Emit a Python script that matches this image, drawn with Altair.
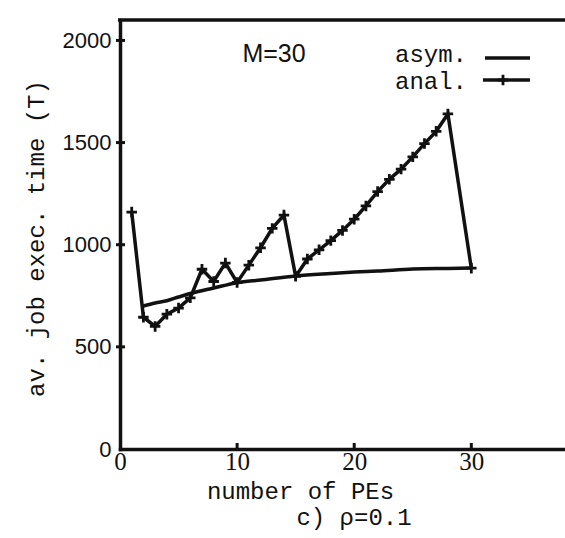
import altair as alt
import pandas as pd

# Average job execution time (T) versus number of PEs, M=30 jobs, rho=0.1
anal_pes = [1, 2, 3, 4, 5, 6, 7, 8, 9, 10, 11, 12, 13, 14, 15,
            16, 17, 18, 19, 20, 21, 22, 23, 24, 25, 26, 27, 28, 30]
anal_time = [1160, 645, 600, 660, 690, 740, 880, 820, 910, 815, 900, 985, 1080, 1145, 845,
             930, 975, 1020, 1070, 1125, 1190, 1260, 1320, 1370, 1430, 1495, 1555, 1640, 885]

asym_pes = [2, 3, 4, 5, 6, 8, 10, 12, 15, 18, 20, 22, 25, 28, 30]
asym_time = [700, 715, 726, 744, 761, 788, 814, 827, 847, 859, 866, 871, 881, 884, 886]

x_tick_values = [0, 10, 20, 30]
y_tick_values = [0, 500, 1000, 1500, 2000]

W, H = 445, 429
INK = "#111111"
MONO = "Liberation Mono"
SANS = "Liberation Sans"
SERIF = "Liberation Serif"
PLUS = "M-1,0L1,0M0,-1L0,1"

anal_df = pd.DataFrame({"pes": anal_pes, "time": anal_time})
asym_df = pd.DataFrame({"pes": asym_pes, "time": asym_time})
xt_df = pd.DataFrame({"pes": x_tick_values[1:]})
yt_df = pd.DataFrame({"time": y_tick_values[1:]})
one = alt.Data(values=[{}])

x_enc = alt.X(
    "pes:Q",
    scale=alt.Scale(domain=[0, 38], nice=False),
    axis=alt.Axis(
        values=x_tick_values, format="d", title="number of PEs", ticks=False, grid=False,
        domainWidth=3.5, domainColor=INK, labelFont=SERIF, labelFontSize=25,
        labelColor=INK, labelPadding=0, labelFlush=False,
        titleFont=MONO, titleFontSize=24, titleFontWeight="normal", titleColor=INK,
        titleX=180, titleY=30,
    ),
)
y_enc = alt.Y(
    "time:Q",
    scale=alt.Scale(domain=[0, 2100], nice=False),
    axis=alt.Axis(
        values=y_tick_values, format="d", title="av. job exec. time (T)", ticks=False, grid=False,
        domainWidth=3.5, domainColor=INK, labelFont=SANS, labelFontSize=22,
        labelColor=INK, labelPadding=9, labelFlush=False,
        titleFont=MONO, titleFontSize=24, titleFontWeight="normal", titleColor=INK,
        titleX=-84, titleY=218, titleAngle=270, titleBaseline="middle", titleAlign="center",
    ),
)

asym_line = alt.Chart(asym_df).mark_line(
    color=INK, strokeWidth=3.5, interpolate="monotone"
).encode(x=x_enc, y=y_enc)

anal_line = alt.Chart(anal_df).mark_line(color=INK, strokeWidth=3.5).encode(x=x_enc, y=y_enc)

anal_pts = alt.Chart(anal_df).mark_point(
    shape=PLUS, filled=False, stroke=INK, strokeWidth=2.8, size=110, opacity=1
).encode(x=x_enc, y=y_enc)

x_ticks = alt.Chart(xt_df).mark_rule(color=INK, strokeWidth=3).encode(
    x=x_enc, y=alt.value(H), y2=alt.value(H - 6)
)
y_ticks = alt.Chart(yt_df).mark_rule(color=INK, strokeWidth=3).encode(
    y=y_enc, x=alt.value(-4), x2=alt.value(5)
)

top_frame = alt.Chart(one).mark_rule(color=INK, strokeWidth=3.5).encode(
    x=alt.value(-2), x2=alt.value(W), y=alt.value(0)
)

m_label = alt.Chart(one).mark_text(
    text="M=30", font=SANS, fontSize=25, color=INK, align="center", baseline="alphabetic"
).encode(x=alt.value(154), y=alt.value(42))

leg_asym_text = alt.Chart(one).mark_text(
    text="asym.", font=MONO, fontSize=24, color=INK, align="right", baseline="alphabetic"
).encode(x=alt.value(347), y=alt.value(42))
leg_anal_text = alt.Chart(one).mark_text(
    text="anal.", font=MONO, fontSize=24, color=INK, align="right", baseline="alphabetic"
).encode(x=alt.value(347), y=alt.value(69))

leg_asym_line = alt.Chart(one).mark_rule(color=INK, strokeWidth=3.5).encode(
    x=alt.value(365), x2=alt.value(410), y=alt.value(38)
)
leg_anal_line = alt.Chart(one).mark_rule(color=INK, strokeWidth=3.5).encode(
    x=alt.value(363), x2=alt.value(410), y=alt.value(60)
)
leg_anal_mark = alt.Chart(one).mark_point(
    shape=PLUS, filled=False, stroke=INK, strokeWidth=2.8, size=110, opacity=1
).encode(x=alt.value(383), y=alt.value(60))

caption = alt.Chart(one).mark_text(
    text="c) \u03c1=0.1", font=MONO, fontSize=24, color=INK, align="center", baseline="middle"
).encode(x=alt.value(234), y=alt.value(498))

chart = alt.layer(
    asym_line, anal_line, anal_pts, x_ticks, y_ticks, top_frame,
    m_label, leg_asym_text, leg_anal_text, leg_asym_line, leg_anal_line, leg_anal_mark,
    caption,
).properties(
    width=W, height=H,
    autosize=alt.AutoSizeParams(type="none"),
    padding={"left": 120, "top": 20, "right": 0, "bottom": 89},
    background="white",
).configure_view(
    stroke=None
).configure_axis(
    domainWidth=3.5, domainColor=INK, domainCap="square"
)

chart.save("out.html", embed_options={"renderer": "svg", "actions": False})
